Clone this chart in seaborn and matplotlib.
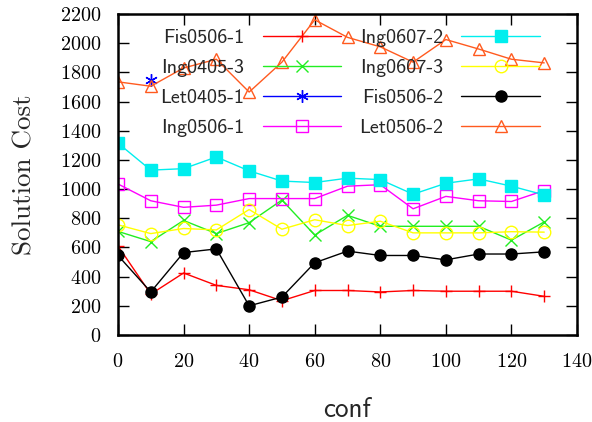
import matplotlib
matplotlib.use("Agg")
import matplotlib.pyplot as plt
import seaborn as sns

conf = [0, 10, 20, 30, 40, 50, 60, 70, 80, 90, 100, 110, 120, 130]

fis0506_1 = [610, 280, 425, 340, 310, 235, 305, 305, 295, 305, 300, 300, 300, 265]
ing0405_3 = [710, 640, 785, 695, 770, 925, 685, 820, 745, 745, 745, 745, 650, 775]
let0405_1_x = [10]
let0405_1 = [1745]
ing0506_1 = [1035, 920, 875, 890, 935, 935, 935, 1020, 1030, 865, 950, 920, 915, 990]
ing0607_2 = [1315, 1130, 1140, 1220, 1125, 1055, 1045, 1075, 1065, 965, 1040, 1070, 1020, 960]
ing0607_3 = [755, 695, 730, 720, 860, 725, 790, 750, 780, 700, 700, 700, 708, 705]
fis0506_2 = [545, 295, 565, 590, 200, 260, 495, 575, 545, 545, 515, 555, 555, 570]
let0506_2 = [1735, 1705, 1830, 1890, 1665, 1870, 2160, 2040, 1975, 1870, 2025, 1960, 1890, 1865]

x_ticks = [0, 20, 40, 60, 80, 100, 120, 140]
y_ticks = [0, 200, 400, 600, 800, 1000, 1200, 1400, 1600, 1800, 2000, 2200]

sns.set_style("ticks")
plt.rcParams["font.family"] = ["cmr10", "DejaVu Serif"]
plt.rcParams["axes.formatter.use_mathtext"] = True

fig = plt.figure(figsize=(5.92, 4.22), dpi=100)
ax = fig.add_axes([118/592, 1-335/422, (577-118)/592, (335-14)/422])

series = [
    ("Fis0506-1", conf, fis0506_1, "#ff0000", "+", "#ff0000", 9),
    ("Ing0405-3", conf, ing0405_3, "#22ee22", "x", "#22ee22", 8),
    ("Let0405-1", let0405_1_x, let0405_1, "#0000ff", (6, 2, 0), "#0000ff", 9),
    ("Ing0506-1", conf, ing0506_1, "#ff00ff", "s", "none", 8),
    ("Ing0607-2", conf, ing0607_2, "#00eeee", "s", "#00eeee", 8),
    ("Ing0607-3", conf, ing0607_3, "#ffff00", "o", "none", 9),
    ("Fis0506-2", conf, fis0506_2, "#000000", "o", "#000000", 8),
    ("Let0506-2", conf, let0506_2, "#ff5a1f", "^", "none", 8),
]

for name, xs, ys, col, mk, mfc, ms in series:
    sns.lineplot(x=xs, y=ys, ax=ax, color=col, marker=mk, markersize=ms,
                 markerfacecolor=mfc, markeredgecolor=col, markeredgewidth=1.0,
                 linewidth=1.0, label=name, legend=False)

ax.set_xlim(0, 140)
ax.set_ylim(0, 2200)
ax.set_xticks(x_ticks)
ax.set_yticks(y_ticks)
ax.tick_params(direction="in", length=8, width=1, top=True, right=True,
               labelsize=14.5, colors="black")
ax.tick_params(axis="x", pad=13)
ax.tick_params(axis="y", pad=12)
for s in ax.spines.values():
    s.set_visible(True)
    s.set_linewidth(1.8)
    s.set_color("black")

ax.set_ylabel("Solution Cost", fontsize=19.5, family=["cmr10"], labelpad=17)
ax.set_xlabel("conf", fontsize=19.5, family=["cmss10"], labelpad=19)

handles, labels = ax.get_legend_handles_labels()
leg = ax.legend(handles, labels, ncol=2, markerfirst=False, frameon=False,
                loc="upper left", bbox_to_anchor=(0.075, 0.98),
                prop={"family": "cmss10", "size": 14.5},
                handlelength=3.9, handletextpad=0.9, columnspacing=0.9,
                labelspacing=0.6, borderaxespad=0)

fig.savefig("out.png", dpi=100)
